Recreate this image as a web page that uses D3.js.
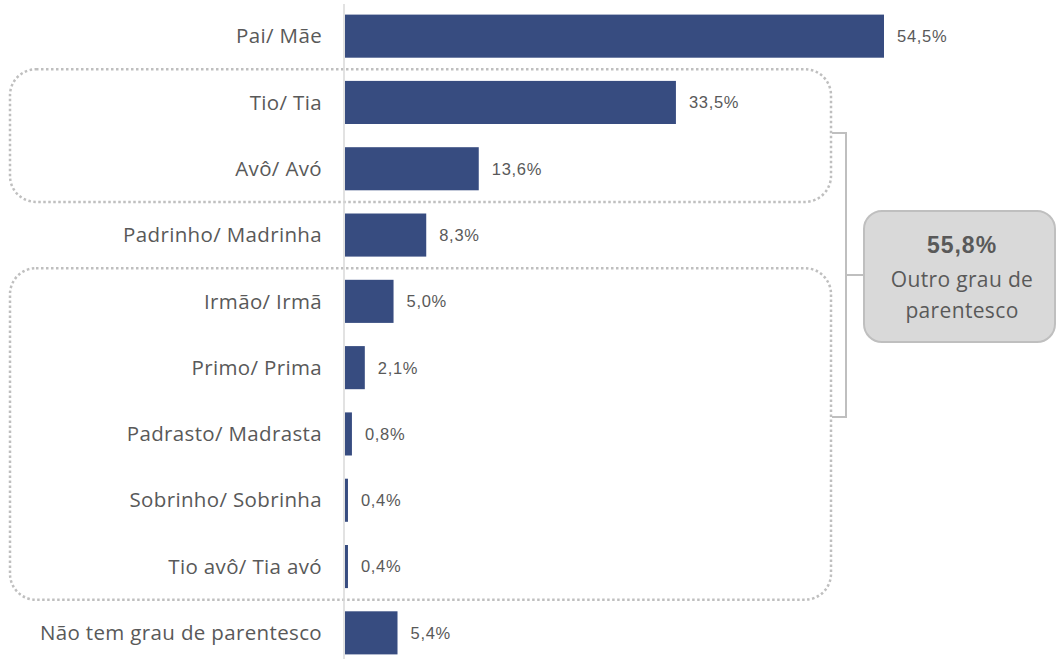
<!DOCTYPE html>
<html>
<head>
<meta charset="utf-8">
<script src="https://cdn.jsdelivr.net/npm/d3@7"></script>
<style>
  body { margin: 0; background: #fff; }
  svg { display: block; }
</style>
</head>
<body>
<div id="chart"></div>
<script>
const categories = [
  'Pai/ Mãe', 'Tio/ Tia', 'Avô/ Avó', 'Padrinho/ Madrinha', 'Irmão/ Irmã',
  'Primo/ Prima', 'Padrasto/ Madrasta', 'Sobrinho/ Sobrinha', 'Tio avô/ Tia avó',
  'Não tem grau de parentesco'
];
const values = [54.5, 33.5, 13.6, 8.3, 5.0, 2.1, 0.8, 0.4, 0.4, 5.4];
const groups = [
  ['Tio/ Tia', 'Avô/ Avó'],
  ['Irmão/ Irmã', 'Tio avô/ Tia avó']
];
const totalLabel = '55,8%';
const totalText = ['Outro grau de', 'parentesco'];

const width = 1057, height = 659;
const fmt = v => v.toFixed(1).replace('.', ',') + '%';

const svg = d3.select('#chart').append('svg')
  .attr('width', width)
  .attr('height', height);

const x = d3.scaleLinear().domain([0, 54.5]).range([344, 884]);
const y = d3.scaleBand().domain(categories).range([3, 666]).paddingInner(0.35).paddingOuter(0.175);
const gap = y.step() - y.bandwidth();

// dotted group boxes
groups.forEach(function (g) {
  var top = y(g[0]) - gap / 2;
  var bottom = y(g[1]) + y.bandwidth() + gap / 2;
  svg.append('rect')
    .attr('x', 10).attr('y', top)
    .attr('width', 821).attr('height', bottom - top)
    .attr('rx', 26).attr('ry', 26)
    .attr('fill', 'none')
    .attr('stroke', '#bfbfbf')
    .attr('stroke-width', 2.5)
    .attr('stroke-dasharray', '2.5 2.5');
});

// bars
svg.selectAll('.bar')
  .data(categories)
  .enter().append('rect')
  .attr('class', 'bar')
  .attr('x', x(0) + 1)
  .attr('y', d => y(d))
  .attr('width', (d, i) => Math.max(x(values[i]) - x(0) - 1, 2))
  .attr('height', y.bandwidth())
  .attr('fill', '#374c80');

// axis line
svg.append('line')
  .attr('x1', x(0)).attr('x2', x(0))
  .attr('y1', 4).attr('y2', height)
  .attr('stroke', '#d9d9d9')
  .attr('stroke-width', 1.5);

// category labels
svg.selectAll('.cat')
  .data(categories)
  .enter().append('text')
  .attr('x', 322)
  .attr('y', d => y(d) + y.bandwidth() / 2)
  .attr('dy', '0.35em')
  .attr('text-anchor', 'end')
  .style('font-family', '"Open Sans", sans-serif')
  .style('font-size', '20.5px')
  .style('letter-spacing', '0.35px')
  .style('fill', '#595959')
  .text(d => d);

// value labels
svg.selectAll('.val')
  .data(categories)
  .enter().append('text')
  .attr('x', (d, i) => Math.max(x(values[i]), x(0) + 2) + 13)
  .attr('y', d => y(d) + y.bandwidth() / 2)
  .attr('dy', '0.36em')
  .style('font-family', '"Liberation Sans", Arial, sans-serif')
  .style('font-size', '16.5px')
  .style('letter-spacing', '0.7px')
  .style('fill', '#595959')
  .text((d, i) => fmt(values[i]));

// brace
const braceTop = 133, braceBot = 417, braceX = 846, braceMid = 275;
svg.append('path')
  .attr('d', 'M832,' + braceTop + ' H' + braceX + ' V' + braceBot + ' H832 M' + braceX + ',' + braceMid + ' H863')
  .attr('fill', 'none')
  .attr('stroke', '#bfbfbf')
  .attr('stroke-width', 2);

// summary box
svg.append('rect')
  .attr('x', 864).attr('y', 211)
  .attr('width', 191).attr('height', 131)
  .attr('rx', 18).attr('ry', 18)
  .attr('fill', '#d9d9d9')
  .attr('stroke', '#bfbfbf')
  .attr('stroke-width', 2);

svg.append('text')
  .attr('x', 962).attr('y', 253)
  .attr('text-anchor', 'middle')
  .style('font-family', '"Liberation Sans", Arial, sans-serif')
  .style('font-size', '23px')
  .style('font-weight', '700')
  .style('letter-spacing', '1px')
  .style('fill', '#595959')
  .text(totalLabel);

svg.selectAll('.tot')
  .data(totalText)
  .enter().append('text')
  .attr('x', 962)
  .attr('y', (d, i) => 287 + i * 31)
  .attr('text-anchor', 'middle')
  .style('font-family', '"Open Sans", sans-serif')
  .style('font-size', '21px')
  .style('letter-spacing', '0.35px')
  .style('fill', '#595959')
  .text(d => d);
</script>
</body>
</html>
